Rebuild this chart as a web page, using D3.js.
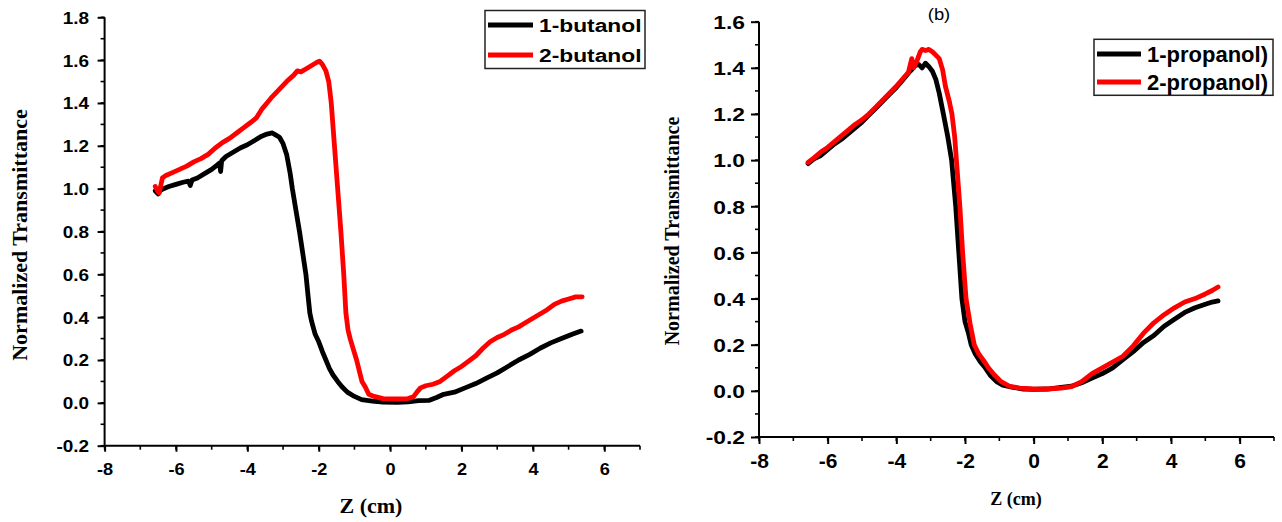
<!DOCTYPE html>
<html>
<head>
<meta charset="utf-8">
<script src="https://cdn.jsdelivr.net/npm/d3@7"></script>
<style>
  html, body { margin: 0; padding: 0; background: #fff; }
  svg { display: block; }
</style>
</head>
<body>
<svg id="chart" width="1282" height="522"></svg>
<script>
// ---------------- DATA ----------------
const xTicks = [-8, -6, -4, -2, 0, 2, 4, 6];
const yTicksA = [-0.2, 0.0, 0.2, 0.4, 0.6, 0.8, 1.0, 1.2, 1.4, 1.6, 1.8];
const yTicksB = [-0.2, 0.0, 0.2, 0.4, 0.6, 0.8, 1.0, 1.2, 1.4, 1.6];

const seriesNamesA = ["1-butanol", "2-butanol"];
const seriesNamesB = ["1-propanol)", "2-propanol)"];

// Panel (a): 1-butanol  [Z (cm), normalized transmittance]
const butanol1 = [
  [-6.58,0.99],[-6.5,0.975],[-6.45,0.99],[-6.35,1.0],[-6.2,1.01],[-6.0,1.02],[-5.8,1.03],
  [-5.65,1.035],[-5.6,1.015],[-5.55,1.04],[-5.4,1.05],[-5.2,1.07],[-5.0,1.09],[-4.85,1.11],
  [-4.78,1.12],[-4.75,1.08],[-4.72,1.13],[-4.6,1.15],[-4.4,1.17],[-4.2,1.19],[-4.0,1.205],
  [-3.8,1.225],[-3.6,1.245],[-3.45,1.255],[-3.3,1.26],[-3.2,1.25],[-3.1,1.24],[-3.0,1.21],
  [-2.9,1.16],[-2.8,1.07],[-2.74,1.0],[-2.64,0.9],[-2.54,0.8],[-2.45,0.7],[-2.36,0.6],
  [-2.3,0.5],[-2.25,0.42],[-2.2,0.38],[-2.1,0.32],[-2.0,0.285],[-1.9,0.24],[-1.8,0.2],
  [-1.7,0.16],[-1.6,0.13],[-1.47,0.1],[-1.35,0.075],[-1.2,0.05],[-1.0,0.03],[-0.8,0.015],
  [-0.5,0.008],[-0.2,0.004],[0.2,0.002],[0.5,0.005],[0.8,0.01],[1.1,0.012],[1.3,0.025],
  [1.5,0.04],[1.8,0.05],[2.1,0.07],[2.4,0.09],[2.7,0.115],[3.0,0.14],[3.3,0.17],[3.6,0.2],
  [3.9,0.225],[4.2,0.255],[4.5,0.28],[4.8,0.3],[5.1,0.32],[5.35,0.335]
];
// Panel (a): 2-butanol
const butanol2 = [
  [-6.58,1.01],[-6.52,0.99],[-6.47,0.98],[-6.42,1.02],[-6.38,1.05],[-6.3,1.06],[-6.1,1.075],
  [-5.9,1.09],[-5.7,1.105],[-5.5,1.125],[-5.3,1.14],[-5.1,1.16],[-4.9,1.19],[-4.7,1.215],
  [-4.5,1.235],[-4.3,1.26],[-4.1,1.285],[-3.9,1.31],[-3.75,1.33],[-3.6,1.37],[-3.45,1.4],
  [-3.3,1.43],[-3.1,1.465],[-2.9,1.5],[-2.7,1.53],[-2.6,1.55],[-2.5,1.545],[-2.35,1.56],
  [-2.2,1.575],[-2.05,1.59],[-1.98,1.595],[-1.9,1.58],[-1.8,1.55],[-1.72,1.5],[-1.65,1.4],
  [-1.56,1.2],[-1.47,1.0],[-1.38,0.8],[-1.3,0.6],[-1.24,0.42],[-1.18,0.34],[-1.12,0.3],
  [-1.05,0.26],[-0.94,0.2],[-0.85,0.14],[-0.79,0.1],[-0.7,0.075],[-0.6,0.04],[-0.45,0.03],
  [-0.2,0.02],[0.2,0.018],[0.5,0.02],[0.65,0.028],[0.75,0.05],[0.85,0.07],[1.0,0.08],
  [1.2,0.087],[1.4,0.1],[1.6,0.125],[1.8,0.15],[2.0,0.17],[2.2,0.195],[2.4,0.22],[2.6,0.255],
  [2.8,0.285],[3.0,0.305],[3.2,0.32],[3.4,0.34],[3.6,0.355],[3.8,0.375],[4.0,0.395],
  [4.2,0.415],[4.4,0.435],[4.6,0.46],[4.8,0.475],[5.0,0.485],[5.2,0.495],[5.38,0.495]
];
// Panel (b): 1-propanol
const propanol1 = [
  [-6.57,0.985],[-6.4,1.005],[-6.2,1.02],[-6.0,1.045],[-5.8,1.07],[-5.6,1.09],[-5.4,1.115],
  [-5.2,1.14],[-5.0,1.165],[-4.8,1.195],[-4.6,1.225],[-4.4,1.255],[-4.2,1.285],[-4.0,1.315],
  [-3.8,1.35],[-3.6,1.385],[-3.45,1.41],[-3.35,1.415],[-3.25,1.4],[-3.15,1.42],[-3.05,1.405],
  [-2.95,1.385],[-2.85,1.35],[-2.75,1.29],[-2.63,1.2],[-2.5,1.1],[-2.39,1.0],[-2.27,0.8],
  [-2.18,0.6],[-2.09,0.4],[-2.0,0.3],[-1.9,0.25],[-1.82,0.2],[-1.7,0.16],[-1.55,0.125],
  [-1.41,0.1],[-1.25,0.065],[-1.08,0.04],[-0.9,0.025],[-0.6,0.015],[-0.3,0.008],[0.0,0.006],
  [0.4,0.008],[0.8,0.015],[1.1,0.02],[1.4,0.035],[1.7,0.055],[2.0,0.075],[2.3,0.1],
  [2.6,0.135],[2.9,0.17],[3.2,0.21],[3.5,0.24],[3.8,0.28],[4.1,0.31],[4.4,0.34],[4.7,0.36],
  [5.0,0.375],[5.2,0.385],[5.37,0.39]
];
// Panel (b): 2-propanol
const propanol2 = [
  [-6.57,0.99],[-6.4,1.01],[-6.2,1.035],[-6.0,1.055],[-5.8,1.08],[-5.6,1.105],[-5.4,1.13],
  [-5.2,1.155],[-5.0,1.175],[-4.8,1.2],[-4.6,1.23],[-4.4,1.26],[-4.2,1.29],[-4.0,1.32],
  [-3.8,1.355],[-3.65,1.38],[-3.55,1.44],[-3.5,1.4],[-3.4,1.43],[-3.3,1.47],[-3.25,1.48],
  [-3.15,1.475],[-3.05,1.48],[-2.95,1.47],[-2.85,1.455],[-2.75,1.44],[-2.65,1.39],
  [-2.57,1.32],[-2.45,1.25],[-2.38,1.2],[-2.3,1.1],[-2.25,1.0],[-2.15,0.8],[-2.07,0.6],
  [-1.97,0.4],[-1.85,0.29],[-1.73,0.2],[-1.6,0.16],[-1.45,0.13],[-1.32,0.1],[-1.15,0.07],
  [-0.95,0.04],[-0.7,0.02],[-0.4,0.012],[0.0,0.008],[0.4,0.008],[0.8,0.012],[1.1,0.018],
  [1.4,0.04],[1.7,0.075],[2.0,0.1],[2.3,0.125],[2.6,0.15],[2.9,0.195],[3.2,0.25],[3.5,0.295],
  [3.8,0.33],[4.1,0.36],[4.4,0.385],[4.7,0.4],[5.0,0.42],[5.2,0.435],[5.37,0.45]
];

const colors = ["#000000", "#ff0000"];

// ---------------- DRAW ----------------
const svg = d3.select("#chart");
const SANS = "'Liberation Sans', Arial, sans-serif";
const SERIF = "'Liberation Serif', 'Times New Roman', serif";

function panel(cfg) {
  const x = d3.scaleLinear().domain([-8, 7]).range([cfg.x0, cfg.x1]);
  const y = d3.scaleLinear().domain([-0.2, cfg.ymax]).range([cfg.y0, cfg.y1]);
  const g = svg.append("g");

  // minor ticks
  const xMinor = d3.range(-8, 7.01, 1);
  const yMinor = d3.range(-0.2, cfg.ymax + 0.001, 0.1);
  g.append("g").selectAll("line").data(xMinor).join("line")
    .attr("x1", d => x(d)).attr("x2", d => x(d))
    .attr("y1", cfg.y0).attr("y2", cfg.y0 + 4)
    .attr("stroke", "#000").attr("stroke-width", 1.6);
  g.append("g").selectAll("line").data(yMinor).join("line")
    .attr("y1", d => y(d)).attr("y2", d => y(d))
    .attr("x1", cfg.x0).attr("x2", cfg.x0 - 4)
    .attr("stroke", "#000").attr("stroke-width", 1.6);

  // x axis
  const xa = g.append("g").attr("transform", `translate(0,${cfg.y0})`)
    .call(d3.axisBottom(x).tickValues(xTicks).tickSize(cfg.majorX).tickSizeOuter(0).tickFormat(d3.format("d")));
  xa.select(".domain").attr("stroke-width", 2).attr("d", `M${cfg.x0},0H${cfg.x1}`);
  xa.selectAll(".tick line").attr("stroke-width", 2);
  xa.selectAll(".tick text")
    .attr("y", cfg.xLabOff).attr("dy", 0)
    .attr("font-family", SANS).attr("font-weight", "bold")
    .attr("font-size", cfg.xFont).attr("fill", "#000")
    .attr("transform", `scale(${cfg.xStretch},1)`)
    .text(d => d3.format("d")(d).replace("−", "-"));

  // y axis
  const ya = g.append("g").attr("transform", `translate(${cfg.x0},0)`)
    .call(d3.axisLeft(y).tickValues(cfg.yTicks).tickSize(cfg.majorY).tickSizeOuter(0));
  ya.select(".domain").attr("stroke-width", 2).attr("d", `M0,${cfg.y0}V${cfg.y1}`);
  ya.selectAll(".tick line").attr("stroke-width", 2);
  ya.selectAll(".tick text")
    .attr("x", -cfg.yLabOff / cfg.yStretch).attr("dy", "0.36em")
    .attr("font-family", SANS).attr("font-weight", "bold")
    .attr("font-size", cfg.yFont).attr("fill", "#000")
    .attr("transform", `scale(${cfg.yStretch},1)`)
    .text(d => d3.format(".1f")(d).replace("−", "-"));

  // lines
  const line = d3.line().x(d => x(d[0])).y(d => y(d[1]));
  cfg.series.forEach((s, i) => {
    g.append("path").datum(s)
      .attr("d", line)
      .attr("fill", "none")
      .attr("stroke", colors[i])
      .attr("stroke-width", 4.8)
      .attr("stroke-linejoin", "round")
      .attr("stroke-linecap", "round");
  });

  // axis titles
  g.append("text")
    .attr("transform", `translate(${cfg.yTitleX},${cfg.yTitleY}) rotate(-90)`)
    .attr("text-anchor", "middle")
    .attr("font-family", SERIF).attr("font-weight", "bold")
    .attr("font-size", cfg.yTitleFont)
    .text("Normalized Transmittance");
  g.append("text")
    .attr("x", cfg.xTitleX).attr("y", cfg.xTitleY)
    .attr("text-anchor", "middle")
    .attr("font-family", SERIF).attr("font-weight", "bold")
    .attr("font-size", cfg.xTitleFont)
    .text("Z (cm)");

  // legend
  const L = cfg.legend;
  g.append("rect")
    .attr("x", L.x).attr("y", L.y).attr("width", L.w).attr("height", L.h)
    .attr("fill", "#fff").attr("stroke", "#222").attr("stroke-width", 1.5);
  cfg.names.forEach((n, i) => {
    const ly = L.rows[i];
    g.append("line")
      .attr("x1", L.lx0).attr("x2", L.lx1).attr("y1", ly).attr("y2", ly)
      .attr("stroke", colors[i]).attr("stroke-width", 4.8);
    g.append("text")
      .attr("transform", `translate(${L.tx},${ly + L.base}) scale(${L.stretch},1)`)
      .attr("font-family", SANS).attr("font-weight", "bold")
      .attr("font-size", L.font)
      .text(n);
  });
}

panel({
  x0: 104.6, x1: 640, y0: 445.7, y1: 17.3, ymax: 1.8,
  yTicks: yTicksA, majorX: 6, majorY: 7,
  xLabOff: 29, xFont: 16.5, xStretch: 1.1,
  yLabOff: 15.5, yFont: 16.5, yStretch: 1.15,
  series: [butanol1, butanol2], names: seriesNamesA,
  yTitleX: 27, yTitleY: 235, yTitleFont: 22,
  xTitleX: 371, xTitleY: 513, xTitleFont: 22,
  legend: { x: 485, y: 10.5, w: 160, h: 58, rows: [25, 55], lx0: 488, lx1: 533,
            tx: 539, base: 7, font: 19, stretch: 1.2 }
});

panel({
  x0: 759, x1: 1274, y0: 437, y1: 21.7, ymax: 1.6,
  yTicks: yTicksB, majorX: 7, majorY: 8,
  xLabOff: 31, xFont: 21, xStretch: 1.0,
  yLabOff: 14, yFont: 19, yStretch: 1.2,
  series: [propanol1, propanol2], names: seriesNamesB,
  yTitleX: 679, yTitleY: 231, yTitleFont: 20,
  xTitleX: 1016, xTitleY: 505, xTitleFont: 18,
  legend: { x: 1094, y: 39.3, w: 179, h: 56, rows: [54, 82], lx0: 1097, lx1: 1141,
            tx: 1147, base: 7.7, font: 22, stretch: 1.0 }
});

svg.append("text")
  .attr("transform", "translate(939,20) scale(1.15,1)")
  .attr("text-anchor", "middle")
  .attr("font-family", SANS).attr("font-size", 16)
  .text("(b)");
</script>
</body>
</html>
